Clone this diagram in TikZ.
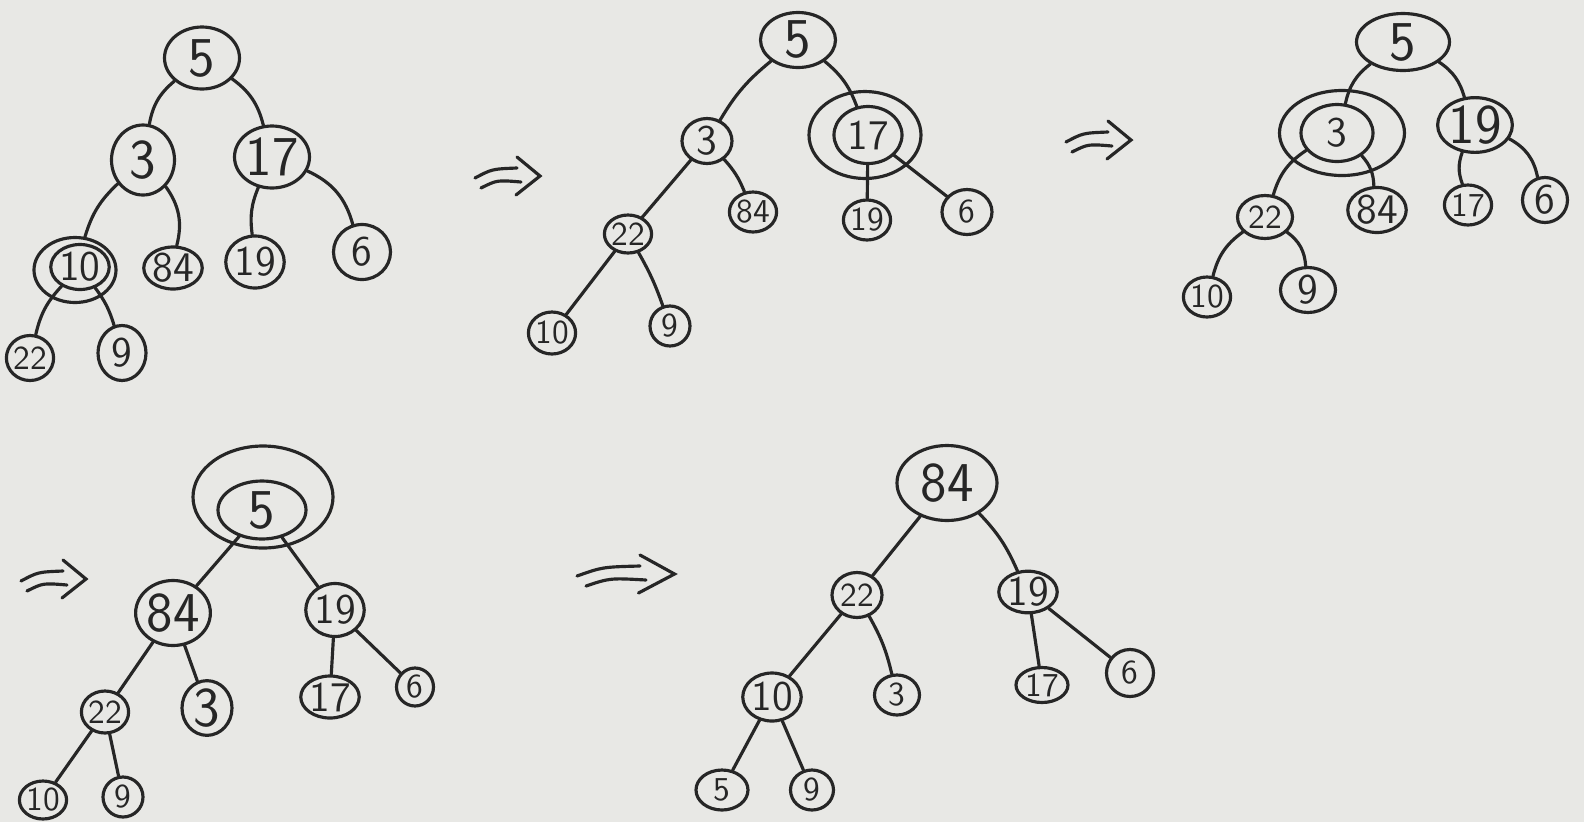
\documentclass[tikz,border=0pt]{standalone}
\usetikzlibrary{shapes.geometric}
\definecolor{ink}{HTML}{262626}
\definecolor{paper}{HTML}{E8E8E5}

\begin{document}
\begin{tikzpicture}[
  nd/.style={draw=ink,ellipse,line width=0.9pt,inner sep=0pt,text=ink,font=\sffamily\fontsize{12}{12}\selectfont},
  lg/.style={nd,font=\sffamily\fontsize{16}{16}\selectfont},
  sm/.style={nd,font=\sffamily\fontsize{9.5}{10}\selectfont},
  sz/.style 2 args={minimum width=#1mm,minimum height=#2mm},
  ring/.style={draw=ink,ellipse,line width=0.9pt,inner sep=0pt},
  ln/.style={ink,line width=0.9pt,line cap=round},
  imp/.pic={
    \draw[ln] (-0.32,-0.01) .. controls (-0.15,0.08) .. (0.10,0.09);
    \draw[ln] (-0.26,-0.11) .. controls (-0.10,-0.03) .. (0.14,-0.05);
    \draw[ln] (0.10,0.20) -- (0.33,0.01) -- (0.09,-0.18);}]
\useasboundingbox (0,0) rectangle (15.84,-8.22);
\fill[paper] (0,0) rectangle (15.84,-8.22);

% first heap
\node[lg,sz={7.5}{6.2}] (a5) at (2.02,-0.58) {5};
\node[lg,sz={6.3}{7.0}] (a3) at (1.43,-1.60) {3};
\node[lg,sz={7.5}{6.2}] (a17) at (2.72,-1.57) {17};
\node[nd,sz={5.5}{4.5}] (a10) at (0.80,-2.67) {10};
\node[ring,sz={8.2}{6.5}] (a10o) at (0.75,-2.70) {};
\node[nd,sz={5.0}{4.2}] (a84) at (1.73,-2.68) {84};
\node[nd,sz={5.0}{5.2}] (a19) at (2.55,-2.62) {19};
\node[nd,sz={5.7}{5.5}] (a6) at (3.62,-2.52) {6};
\node[sm,sz={4.7}{4.5}] (a22) at (0.30,-3.58) {22};
\node[nd,sz={4.8}{5.5}] (a9) at (1.22,-3.53) {9};
\draw[ln] (a5) to[bend right=20] (a3);
\draw[ln] (a5) to[bend left=20] (a17);
\draw[ln] (a3) to[bend right=15] (a10o);
\draw[ln] (a3) to[bend left=25] (a84);
\draw[ln] (a17) to[bend right=15] (a19);
\draw[ln] (a17) to[bend left=25] (a6);
\draw[ln] (a10) to[bend right=15] (a22);
\draw[ln] (a10) to[bend left=10] (a9);

\pic at (5.07,-1.77) {imp};

% second heap
\node[lg,sz={7.5}{5.5}] (b5) at (7.98,-0.40) {5};
\node[nd,sz={5.0}{4.5}] (b3) at (7.07,-1.41) {3};
\node[nd,sz={6.8}{5.7}] (b17) at (8.68,-1.35) {17};
\node[ring,sz={11.2}{8.7}] (b17o) at (8.65,-1.35) {};
\node[sm,sz={4.2}{4.0}] (b19) at (8.67,-2.20) {19};
\node[sm,sz={5.0}{4.5}] (b6) at (9.67,-2.12) {6};
\node[sm,sz={4.0}{3.8}] (b22) at (6.28,-2.34) {22};
\node[sm,sz={4.5}{4.0}] (b84) at (7.53,-2.12) {84};
\node[sm,sz={4.0}{4.2}] (b10) at (5.52,-3.33) {10};
\node[sm,sz={4.0}{4.0}] (b9) at (6.70,-3.26) {9};
\draw[ln] (b5) to[bend right=10] (b3);
\draw[ln] (b5) to[bend left=15] (b17);
\draw[ln] (b3) -- (b22);
\draw[ln] (b3) to[bend left=10] (b84);
\draw[ln] (b17) -- (b19);
\draw[ln] (b17) -- (b6);
\draw[ln] (b22) -- (b10);
\draw[ln] (b22) to[bend left=5] (b9);

\pic at (10.98,-1.41) {imp};

% third heap
\node[lg,sz={9.3}{5.7}] (c5) at (14.03,-0.42) {5};
\node[nd,sz={7.2}{5.7}] (c3) at (13.37,-1.33) {3};
\node[ring,sz={12.5}{8.5}] (c3o) at (13.42,-1.33) {};
\node[lg,sz={7.0}{5.3}] (c19) at (14.75,-1.25) {19};
\node[sm,sz={5.5}{4.3}] (c22) at (12.65,-2.17) {22};
\node[nd,sz={5.3}{4.5}] (c84) at (13.77,-2.10) {84};
\node[sm,sz={4.3}{4.0}] (c17) at (14.68,-2.05) {17};
\node[nd,sz={4.5}{4.5}] (c6) at (15.45,-2.00) {6};
\node[sm,sz={4.7}{4.0}] (c10) at (12.07,-2.97) {10};
\node[nd,sz={5.5}{4.5}] (c9) at (13.08,-2.90) {9};
\draw[ln] (c5) to[bend right=20] (c3);
\draw[ln] (c5) to[bend left=20] (c19);
\draw[ln] (c3) to[bend right=20] (c22);
\draw[ln] (c3) to[bend left=20] (c84);
\draw[ln] (c19) to[bend right=20] (c17);
\draw[ln] (c19) to[bend left=25] (c6);
\draw[ln] (c22) to[bend right=20] (c10);
\draw[ln] (c22) to[bend left=25] (c9);

\pic at (0.53,-5.80) {imp};

% fourth heap
\node[lg,sz={8.8}{5.8}] (d5) at (2.62,-5.10) {5};
\node[ring,sz={14.0}{10.2}] (d5o) at (2.63,-4.97) {};
\node[lg,sz={6.0}{6.5}] (d84) at (1.73,-6.13) {84};
\node[nd,sz={5.8}{5.3}] (d19) at (3.35,-6.10) {19};
\node[sm,sz={4.2}{4.2}] (d22) at (1.05,-7.12) {22};
\node[lg,sz={5.0}{4.5}] (d3) at (2.07,-7.08) {3};
\node[nd,sz={4.5}{4.2}] (d17) at (3.30,-6.97) {17};
\node[sm,sz={3.7}{3.8}] (d6) at (4.15,-6.87) {6};
\node[sm,sz={3.5}{3.8}] (d10) at (0.43,-8.00) {10};
\node[sm,sz={4.0}{4.0}] (d9) at (1.23,-7.97) {9};
\draw[ln] (d5) -- (d84);
\draw[ln] (d5) -- (d19);
\draw[ln] (d84) -- (d22);
\draw[ln] (d84) -- (d3);
\draw[ln] (d19) -- (d17);
\draw[ln] (d19) -- (d6);
\draw[ln] (d22) -- (d10);
\draw[ln] (d22) -- (d9);

\pic[xscale=1.5] at (6.25,-5.75) {imp};

% fifth heap
\node[lg,sz={10.0}{7.5}] (e84) at (9.47,-4.83) {84};
\node[sm,sz={5.0}{4.5}] (e22) at (8.57,-5.95) {22};
\node[nd,sz={5.7}{3.7}] (e19) at (10.28,-5.92) {19};
\node[nd,sz={4.7}{4.8}] (e10) at (7.72,-6.97) {10};
\node[sm,sz={4.5}{4.0}] (e3) at (8.97,-6.95) {3};
\node[sm,sz={5.2}{3.5}] (e17) at (10.42,-6.85) {17};
\node[sm,sz={4.7}{4.7}] (e6) at (11.30,-6.73) {6};
\node[sm,sz={5.2}{4.0}] (e5) at (7.22,-7.90) {5};
\node[sm,sz={4.3}{4.0}] (e9) at (8.12,-7.90) {9};
\draw[ln] (e84) -- (e22);
\draw[ln] (e84) to[bend left=10] (e19);
\draw[ln] (e22) -- (e10);
\draw[ln] (e22) to[bend left=8] (e3);
\draw[ln] (e19) -- (e17);
\draw[ln] (e19) -- (e6);
\draw[ln] (e10) -- (e5);
\draw[ln] (e10) -- (e9);
\end{tikzpicture}
\end{document}
